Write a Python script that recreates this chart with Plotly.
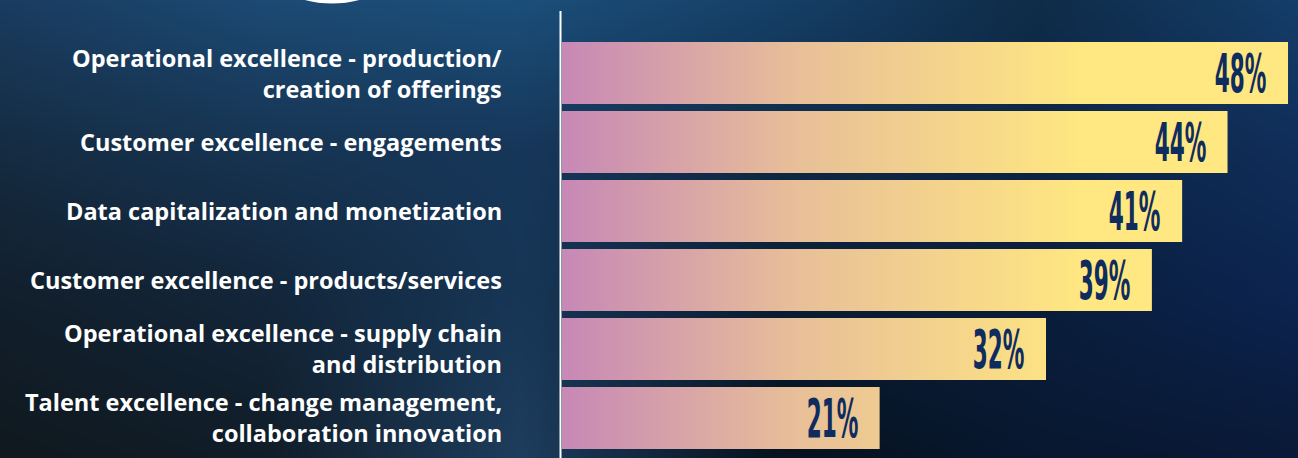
import base64
import struct
import zlib

import numpy as np
import plotly.graph_objects as go

# ---- data -------------------------------------------------------------
categories = [
    "Operational excellence - production/<br>creation of offerings",
    "Customer excellence - engagements",
    "Data capitalization and monetization",
    "Customer excellence - products/services",
    "Operational excellence - supply chain<br>and distribution",
    "Talent excellence - change management,<br>collaboration innovation",
]
values = [48, 44, 41, 39, 32, 21]
value_labels = ["48%", "44%", "41%", "39%", "32%", "21%"]

# ---- canvas geometry --------------------------------------------------
W, H = 1298, 458
ML = 562                      # left margin (label column)
PW = W - ML                   # plot width in px
X_MAX = 48.66                 # axis range end
Y_RANGE = [5.58, -1.058]      # reversed: first category on top
HALF = 0.449                  # half bar thickness in category units


def hex_rgb(h):
    h = h.lstrip("#")
    return [int(h[i:i + 2], 16) for i in (0, 2, 4)]


def png_data_uri(img):
    """Encode an (h, w, 3) uint8 array as a PNG data URI."""
    h, w, _ = img.shape
    raw = b"".join(b"\x00" + img[r].tobytes() for r in range(h))

    def chunk(tag, data):
        c = struct.pack(">I", len(data)) + tag + data
        return c + struct.pack(">I", zlib.crc32(tag + data) & 0xFFFFFFFF)

    png = b"\x89PNG\r\n\x1a\n"
    png += chunk(b"IHDR", struct.pack(">IIBBBBB", w, h, 8, 2, 0, 0, 0))
    png += chunk(b"IDAT", zlib.compress(raw, 9))
    png += chunk(b"IEND", b"")
    return "data:image/png;base64," + base64.b64encode(png).decode()


# background: dark navy wash, bilinear blend of a coarse colour grid
grid_x = [0, 260, 520, 780, 1040, 1298]
grid_y = [0, 150, 300, 458]
grid_c = [
    ["#1A3C60", "#1C4A74", "#1B4F7A", "#164068", "#0F2C48", "#153E6A"],
    ["#152C42", "#173452", "#17375A", "#0F2A46", "#0D2545", "#102E5A"],
    ["#121F2C", "#13263A", "#173656", "#0A1E34", "#0A1E3C", "#0C2450"],
    ["#10191F", "#111D28", "#1E3E5E", "#06121E", "#081830", "#0A1A38"],
]
gc = np.array([[hex_rgb(c) for c in row] for row in grid_c], dtype=float)
bw, bh = 325, 115
xs = np.linspace(0, W, bw)
ys = np.linspace(0, H, bh)
tmp = np.empty((len(grid_y), bw, 3))
for r in range(len(grid_y)):
    for k in range(3):
        tmp[r, :, k] = np.interp(xs, grid_x, gc[r, :, k])
bg = np.empty((bh, bw, 3))
for cidx in range(bw):
    for k in range(3):
        bg[:, cidx, k] = np.interp(ys, grid_y, tmp[:, cidx, k])
bg_uri = png_data_uri(np.clip(bg, 0, 255).astype(np.uint8))

fig = go.Figure()

# bars: filled polygons sharing one horizontal gradient along the axis
bar_scale = [[0.0, "#C788B6"], [0.45, "#E8BF98"], [1.0, "#FFE781"]]
for i, v in enumerate(values):
    fig.add_trace(go.Scatter(
        x=[0, v, v, 0, 0],
        y=[i - HALF, i - HALF, i + HALF, i + HALF, i - HALF],
        mode="lines",
        line=dict(width=0),
        fill="toself",
        fillgradient=dict(type="horizontal", colorscale=bar_scale,
                          start=0, stop=34.5),
        hoverinfo="skip",
        showlegend=False,
    ))

# value labels at the bar ends (narrowed by the page script below)
for i, (v, lab) in enumerate(zip(values, value_labels)):
    fig.add_annotation(
        x=v, y=i, xref="x", yref="y", text=lab, showarrow=False,
        xanchor="right", yanchor="middle", xshift=-20, yshift=0,
        font=dict(family="DejaVu Sans Condensed, sans-serif",
                  size=48, color="#0E2C5E", weight="bold"),
    )

# category labels, right-aligned in the left column
for i, c in enumerate(categories):
    fig.add_annotation(
        x=-(ML - 504) / PW, y=i, xref="paper", yref="y", text=c,
        showarrow=False, xanchor="right", yanchor="middle", align="right",
        font=dict(family="Open Sans", size=23.5, color="white", weight="bold"),
    )

# vertical divider
fig.add_shape(type="line", xref="paper", yref="paper",
              x0=-1.5 / PW, x1=-1.5 / PW, y0=0, y1=1 - 11 / H,
              line=dict(color="white", width=2))

# decorative ring peeking in at the top edge
cx, cy, r = 332, -104.0, 105.0
fig.add_shape(type="circle", xref="paper", yref="paper",
              x0=(cx - r - ML) / PW, x1=(cx + r - ML) / PW,
              y0=1 - (cy + r) / H, y1=1 - (cy - r) / H,
              line=dict(color="white", width=5))

fig.add_layout_image(
    source=bg_uri, xref="paper", yref="paper",
    x=-ML / PW, y=1, sizex=W / PW, sizey=1,
    xanchor="left", yanchor="top", sizing="stretch", layer="below",
)

fig.update_layout(
    width=W, height=H,
    margin=dict(l=ML, r=0, t=0, b=0),
    paper_bgcolor="#0F2A45",
    plot_bgcolor="rgba(0,0,0,0)",
    xaxis=dict(range=[0, X_MAX], visible=False, fixedrange=True),
    yaxis=dict(range=Y_RANGE, visible=False, fixedrange=True),
    showlegend=False,
)

# squeeze the percentage labels into a tall, condensed look,
# keeping their right edge fixed at the bar end
narrow_js = """
var gd = document.getElementById('{plot_id}');
function narrowPct() {
  gd.querySelectorAll('text.annotation-text').forEach(function (t) {
    if (/%$/.test(t.textContent)) {
      t.style.transformBox = 'fill-box';
      t.style.transformOrigin = '100% 50%';
      t.style.transform = 'scale(0.5, 1.1)';
    }
  });
}
narrowPct();
gd.on('plotly_afterplot', narrowPct);
"""

fig.write_html("out.html", post_script=narrow_js)
